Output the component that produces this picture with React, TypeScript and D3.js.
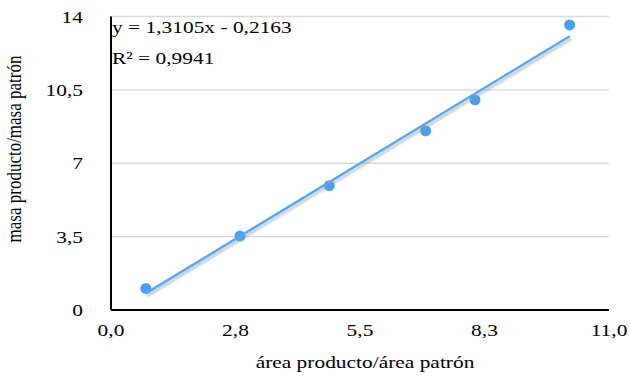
import React, { useRef, useEffect } from "react";
import * as d3 from "d3";

// data
const xValues = [0.77, 2.85, 4.82, 6.95, 8.04, 10.13];
const yValues = [1.03, 3.53, 5.93, 8.54, 10.02, 13.6];
const xTicks = [0, 2.75, 5.5, 8.25, 11];
const yTicks = [0, 3.5, 7, 10.5, 14];
const slope = 1.3105;
const intercept = -0.2163;
const equationLines = ["y = 1,3105x - 0,2163", "R² = 0,9941"];

const App = () => {
  const ref = useRef<SVGSVGElement | null>(null);

  useEffect(() => {
    const width = 630;
    const height = 378;
    const margin = { top: 16.5, right: 21, bottom: 68, left: 111 };
    const sx = 1.26; // reference text is stretched horizontally
    const svg = d3.select(ref.current);
    svg.selectAll("*").remove();

    const x = d3.scaleLinear().domain([0, 11]).range([margin.left, width - margin.right]);
    const y = d3.scaleLinear().domain([0, 14]).range([height - margin.bottom, margin.top]);
    const fmt = (v: number) => v.toFixed(1).replace(".", ",");
    const fmtY = (v: number) => String(v).replace(".", ",");
    const at = (px: number, py: number) => `translate(${px},${py}) scale(${sx},1)`;

    svg.attr("font-family", "Liberation Serif, DejaVu Serif, serif").attr("font-size", 17);

    // gridlines
    svg
      .append("g")
      .selectAll("line")
      .data(yTicks.filter((t) => t > 0))
      .enter()
      .append("line")
      .attr("x1", x(0))
      .attr("x2", x(11))
      .attr("y1", (d) => y(d))
      .attr("y2", (d) => y(d))
      .attr("stroke", "#d9d9d9")
      .attr("stroke-width", 1.3);

    // axes
    svg
      .append("line")
      .attr("x1", x(0))
      .attr("x2", x(11))
      .attr("y1", y(0))
      .attr("y2", y(0))
      .attr("stroke", "#000")
      .attr("stroke-width", 2);
    svg
      .append("line")
      .attr("x1", x(0))
      .attr("x2", x(0))
      .attr("y1", y(0))
      .attr("y2", y(14))
      .attr("stroke", "#000")
      .attr("stroke-width", 2);

    // tick labels
    svg
      .append("g")
      .selectAll("text")
      .data(xTicks)
      .enter()
      .append("text")
      .attr("transform", (d) => at(x(d), y(0) + 26))
      .attr("text-anchor", "middle")
      .text((d) => fmt(d));
    svg
      .append("g")
      .selectAll("text")
      .data(yTicks)
      .enter()
      .append("text")
      .attr("transform", (d) => at(83, y(d) + 6))
      .attr("text-anchor", "end")
      .text((d) => fmtY(d));

    // axis titles
    svg
      .append("text")
      .attr("transform", at(365, 368))
      .attr("text-anchor", "middle")
      .text("área producto/área patrón");
    svg
      .append("text")
      .attr("transform", `${at(21, 149)} rotate(-90)`)
      .attr("text-anchor", "middle")
      .text("masa producto/masa patrón");

    // points
    const pts = xValues.map((v, i) => [v, yValues[i]]);
    svg
      .append("g")
      .selectAll("circle")
      .data(pts)
      .enter()
      .append("circle")
      .attr("cx", (d) => x(d[0]))
      .attr("cy", (d) => y(d[1]))
      .attr("r", 5.5)
      .attr("fill", "#4a9ff0");

    // trendline with soft shadow
    const x0 = d3.min(xValues) as number;
    const x1 = d3.max(xValues) as number;
    const defs = svg.append("defs");
    defs
      .append("filter")
      .attr("id", "blur")
      .append("feGaussianBlur")
      .attr("stdDeviation", 1.2);
    svg
      .append("line")
      .attr("x1", x(x0) + 1.5)
      .attr("y1", y(slope * x0 + intercept) + 2.5)
      .attr("x2", x(x1) + 1.5)
      .attr("y2", y(slope * x1 + intercept) + 2.5)
      .attr("stroke", "#999")
      .attr("stroke-opacity", 0.6)
      .attr("stroke-width", 2.5)
      .attr("filter", "url(#blur)");
    svg
      .append("line")
      .attr("x1", x(x0))
      .attr("y1", y(slope * x0 + intercept))
      .attr("x2", x(x1))
      .attr("y2", y(slope * x1 + intercept))
      .attr("stroke", "#55a8f5")
      .attr("stroke-width", 2.5);

    // equation
    svg
      .append("g")
      .selectAll("text")
      .data(equationLines)
      .enter()
      .append("text")
      .attr("transform", (d, i) => at(112, 33 + i * 31))
      .text((d) => d);
  }, []);

  return (
    <div style={{ position: "absolute", left: 0, top: 0 }}>
      <svg ref={ref} width={630} height={378} style={{ display: "block", background: "#fff" }} />
    </div>
  );
};

export default App;
